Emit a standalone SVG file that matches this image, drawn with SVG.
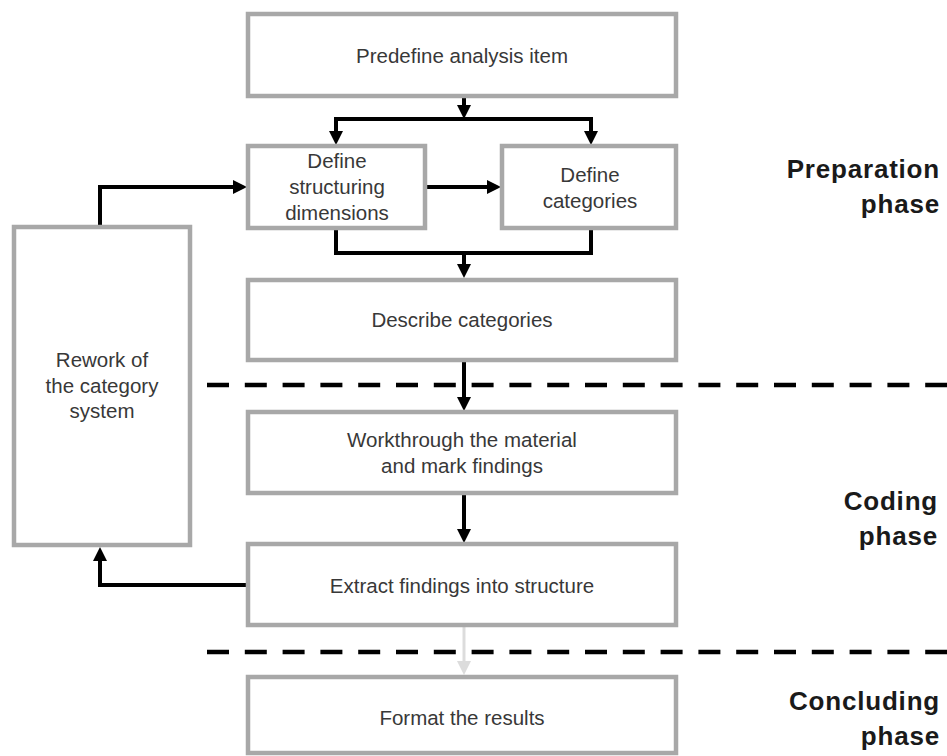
<svg xmlns="http://www.w3.org/2000/svg" width="947" height="756" viewBox="0 0 947 756">
<style>
.box{fill:#fff;stroke:#a8a8a8;stroke-width:4.5}
.t{font-family:"Liberation Sans",Arial,sans-serif;font-size:20.5px;fill:#383838;text-anchor:middle}
.ph{font-family:"Liberation Sans",Arial,sans-serif;font-size:26px;font-weight:bold;fill:#1a1a1a;text-anchor:end;letter-spacing:0.8px}
.c{fill:none;stroke:#000;stroke-width:4}
.dash{fill:none;stroke:#000;stroke-width:4.5;stroke-dasharray:22 15.8}
</style>
<defs>
<marker id="ah" viewBox="0 0 14 14" refX="5" refY="7" markerWidth="14" markerHeight="14" markerUnits="userSpaceOnUse" orient="auto">
<path d="M0,0 L14,7 L0,14 z" fill="#000"/>
</marker>
<marker id="ahg" viewBox="0 0 14 14" refX="5" refY="7" markerWidth="14" markerHeight="14" markerUnits="userSpaceOnUse" orient="auto">
<path d="M0,0 L14,7 L0,14 z" fill="#dcdcdc"/>
</marker>
</defs>
<rect width="947" height="756" fill="#fff"/>
<g id="dividers">
<line class="dash" x1="207" y1="385" x2="947" y2="385"/>
<line class="dash" x1="207" y1="652" x2="947" y2="652"/>
</g>
<g id="connectors">
<path class="c" d="M464,96 V110" marker-end="url(#ah)"/>
<path class="c" d="M464,119 H336 V136" marker-end="url(#ah)"/>
<path class="c" d="M464,119 H591 V136" marker-end="url(#ah)"/>
<path class="c" d="M425,187 H492" marker-end="url(#ah)"/>
<path class="c" d="M336,228 V253 H591 V228"/>
<path class="c" d="M464,253 V269" marker-end="url(#ah)"/>
<path class="c" d="M464,360 V402" marker-end="url(#ah)"/>
<path class="c" d="M464,493 V534" marker-end="url(#ah)"/>
<path d="M464,625 V666" fill="none" stroke="#dcdcdc" stroke-width="3" marker-end="url(#ahg)"/>
<path class="c" d="M100,227 V187 H238" marker-end="url(#ah)"/>
<path class="c" d="M247,585 H100 V556" marker-end="url(#ah)"/>
</g>
<g id="n-predefine">
<rect class="box" x="248" y="14" width="428" height="82"/>
<text class="t" x="462" y="63">Predefine analysis item</text>
</g>
<g id="n-structuring">
<rect class="box" x="248" y="146" width="177" height="82"/>
<text class="t" x="337" y="168">Define</text>
<text class="t" x="337" y="194">structuring</text>
<text class="t" x="337" y="220">dimensions</text>
</g>
<g id="n-categories">
<rect class="box" x="502" y="146" width="174" height="82"/>
<text class="t" x="590" y="182">Define</text>
<text class="t" x="590" y="208">categories</text>
</g>
<g id="n-describe">
<rect class="box" x="248" y="280" width="428" height="80"/>
<text class="t" x="462" y="327">Describe categories</text>
</g>
<g id="n-workthrough">
<rect class="box" x="248" y="412" width="428" height="81"/>
<text class="t" x="462" y="447">Workthrough the material</text>
<text class="t" x="462" y="473">and mark findings</text>
</g>
<g id="n-extract">
<rect class="box" x="248" y="544" width="428" height="81"/>
<text class="t" x="462" y="593">Extract findings into structure</text>
</g>
<g id="n-format">
<rect class="box" x="248" y="677" width="428" height="76"/>
<text class="t" x="462" y="725">Format the results</text>
</g>
<g id="n-rework">
<rect class="box" x="14" y="227" width="176" height="318"/>
<text class="t" x="102" y="367">Rework of</text>
<text class="t" x="102" y="393">the category</text>
<text class="t" x="102" y="418">system</text>
</g>
<g id="phases">
<text class="ph" x="940" y="178">Preparation</text>
<text class="ph" x="940" y="213">phase</text>
<text class="ph" x="938" y="510">Coding</text>
<text class="ph" x="938" y="545">phase</text>
<text class="ph" x="940" y="710">Concluding</text>
<text class="ph" x="940" y="745">phase</text>
</g>
</svg>
